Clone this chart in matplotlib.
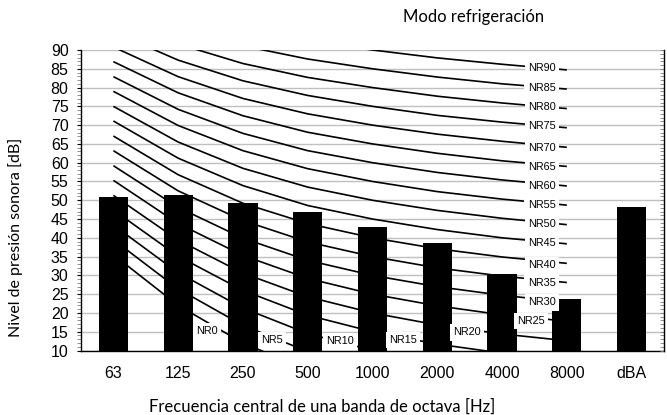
import numpy as np
import matplotlib
matplotlib.use("Agg")
import matplotlib.pyplot as plt
from matplotlib.ticker import MultipleLocator

# ---- data ----
categories = ['63', '125', '250', '500', '1000', '2000', '4000', '8000', 'dBA']
levels = [50.9, 51.3, 49.2, 46.9, 43.0, 38.5, 30.4, 23.7, 48.3]

nr_levels = [0, 5, 10, 15, 20, 25, 30, 35, 40, 45, 50, 55, 60, 65, 70, 75, 80, 85, 90]
# NR curves at 63..8000 Hz
nr0 = [35.5, 22.0, 12.0, 4.8, 0.0, -3.5, -6.1, -8.0]
nr5 = [39.5, 26.4, 16.7, 9.7, 5.0, 1.6, -1.0, -2.9]
nr10 = [43.4, 30.7, 21.3, 14.5, 10.0, 6.7, 4.2, 2.3]
nr15 = [47.4, 35.1, 26.0, 19.4, 15.0, 11.7, 9.3, 7.5]
nr20 = [51.3, 39.4, 30.6, 24.3, 20.0, 16.8, 14.4, 12.6]
nr25 = [55.3, 43.8, 35.3, 29.2, 25.0, 21.9, 19.5, 17.8]
nr30 = [59.2, 48.1, 39.9, 34.0, 30.0, 27.0, 24.7, 22.9]
nr35 = [63.2, 52.5, 44.6, 38.9, 35.0, 32.0, 29.8, 28.1]
nr40 = [67.1, 56.8, 49.2, 43.8, 40.0, 37.1, 34.9, 33.2]
nr45 = [71.1, 61.2, 53.9, 48.6, 45.0, 42.2, 40.0, 38.4]
nr50 = [75.0, 65.5, 58.5, 53.5, 50.0, 47.3, 45.2, 43.5]
nr55 = [79.0, 69.9, 63.2, 58.4, 55.0, 52.3, 50.3, 48.7]
nr60 = [82.9, 74.2, 67.8, 63.2, 60.0, 57.4, 55.4, 53.8]
nr65 = [86.9, 78.6, 72.5, 68.1, 65.0, 62.5, 60.5, 59.0]
nr70 = [90.8, 82.9, 77.1, 73.0, 70.0, 67.6, 65.7, 64.1]
nr75 = [94.8, 87.3, 81.8, 77.9, 75.0, 72.6, 70.8, 69.3]
nr80 = [98.7, 91.6, 86.4, 82.7, 80.0, 77.7, 75.9, 74.4]
nr85 = [102.7, 96.0, 91.1, 87.6, 85.0, 82.8, 81.0, 79.6]
nr90 = [106.6, 100.3, 95.7, 92.5, 90.0, 87.9, 86.2, 84.7]
nr_curves = [nr0, nr5, nr10, nr15, nr20, nr25, nr30, nr35, nr40, nr45,
             nr50, nr55, nr60, nr65, nr70, nr75, nr80, nr85, nr90]

# label anchor positions (category index, dB)
nr_label_x = [1.45, 2.455, 3.50, 4.47, 5.46, 6.45, 6.61] + [6.61] * 12
nr_label_y = [15.2, 12.8, 12.6, 12.8, 14.8, 17.8, 22.8, 28.1, 32.8, 38.6,
              43.6, 48.8, 53.8, 58.9, 64.0, 69.7, 74.8, 80.0, 85.2]

title = 'Modo refrigeración'
xlabel = 'Frecuencia central de una banda de octava [Hz]'
ylabel = 'Nivel de presión sonora [dB]'

# ---- plot ----
arial = 'Liberation Sans'
calibri = 'Lato'

fig = plt.figure(figsize=(6.67, 4.15), dpi=100)
ax = fig.add_axes([81/667, 1-350.5/415, (664-81)/667, (350.5-50)/415])

x = np.arange(len(categories))
ax.bar(x, levels, width=0.45, color='black', zorder=3)

for vals in nr_curves:
    ax.plot(np.arange(len(vals)), vals, color='black', lw=1.2, zorder=2,
            solid_capstyle='butt')

for n, lx, ly in zip(nr_levels, nr_label_x, nr_label_y):
    ax.text(lx, ly, f'NR{n}', fontsize=7.8, family=arial, ha='center', va='center',
            zorder=5, bbox=dict(facecolor='white', edgecolor='none', pad=2.3))

ax.set_xlim(-0.5, len(categories) - 0.5)
ax.set_ylim(10, 90)
ax.set_yticks(np.arange(10, 91, 5))
ax.yaxis.set_minor_locator(MultipleLocator(1))
ax.set_xticks(x)
ax.set_xticklabels(categories, fontsize=11.5, family=arial)
for lab in ax.get_yticklabels():
    lab.set_family(arial)
    lab.set_fontsize(11.5)
ax.tick_params(axis='x', length=0, pad=11)
ax.tick_params(axis='y', which='major', length=3, width=0.8, pad=6, direction='out')
ax.tick_params(axis='y', which='minor', length=3, width=0.6, color='#808080', direction='out')

ax.yaxis.grid(True, color='#c0c0c0', lw=1.0, zorder=0)
ax.set_axisbelow(True)
ax.spines['top'].set_visible(False)
ax.spines['right'].set_visible(False)
ax.spines['left'].set_linewidth(1.0)
ax.spines['bottom'].set_linewidth(1.0)

ax2 = ax.twinx()
ax2.set_ylim(10, 90)
ax2.set_yticks(np.arange(10, 91, 5))
ax2.yaxis.set_minor_locator(MultipleLocator(1))
ax2.tick_params(axis='y', which='both', direction='in', length=3, width=0.6,
                color='#808080', labelright=False)
ax2.spines['top'].set_visible(False)
ax2.spines['left'].set_visible(False)
ax2.spines['bottom'].set_visible(False)
ax2.spines['right'].set_linewidth(1.0)

fig.text(474/667, 1-17/415, title, ha='center', va='center', fontsize=12, family=calibri)
fig.text(322/667, 1-407/415, xlabel, ha='center', va='center', fontsize=12, family=calibri)
fig.text(16/667, 1-237/415, ylabel, ha='center', va='center', rotation=90, fontsize=11.5, family=calibri)

fig.savefig('out.png', dpi=100)
